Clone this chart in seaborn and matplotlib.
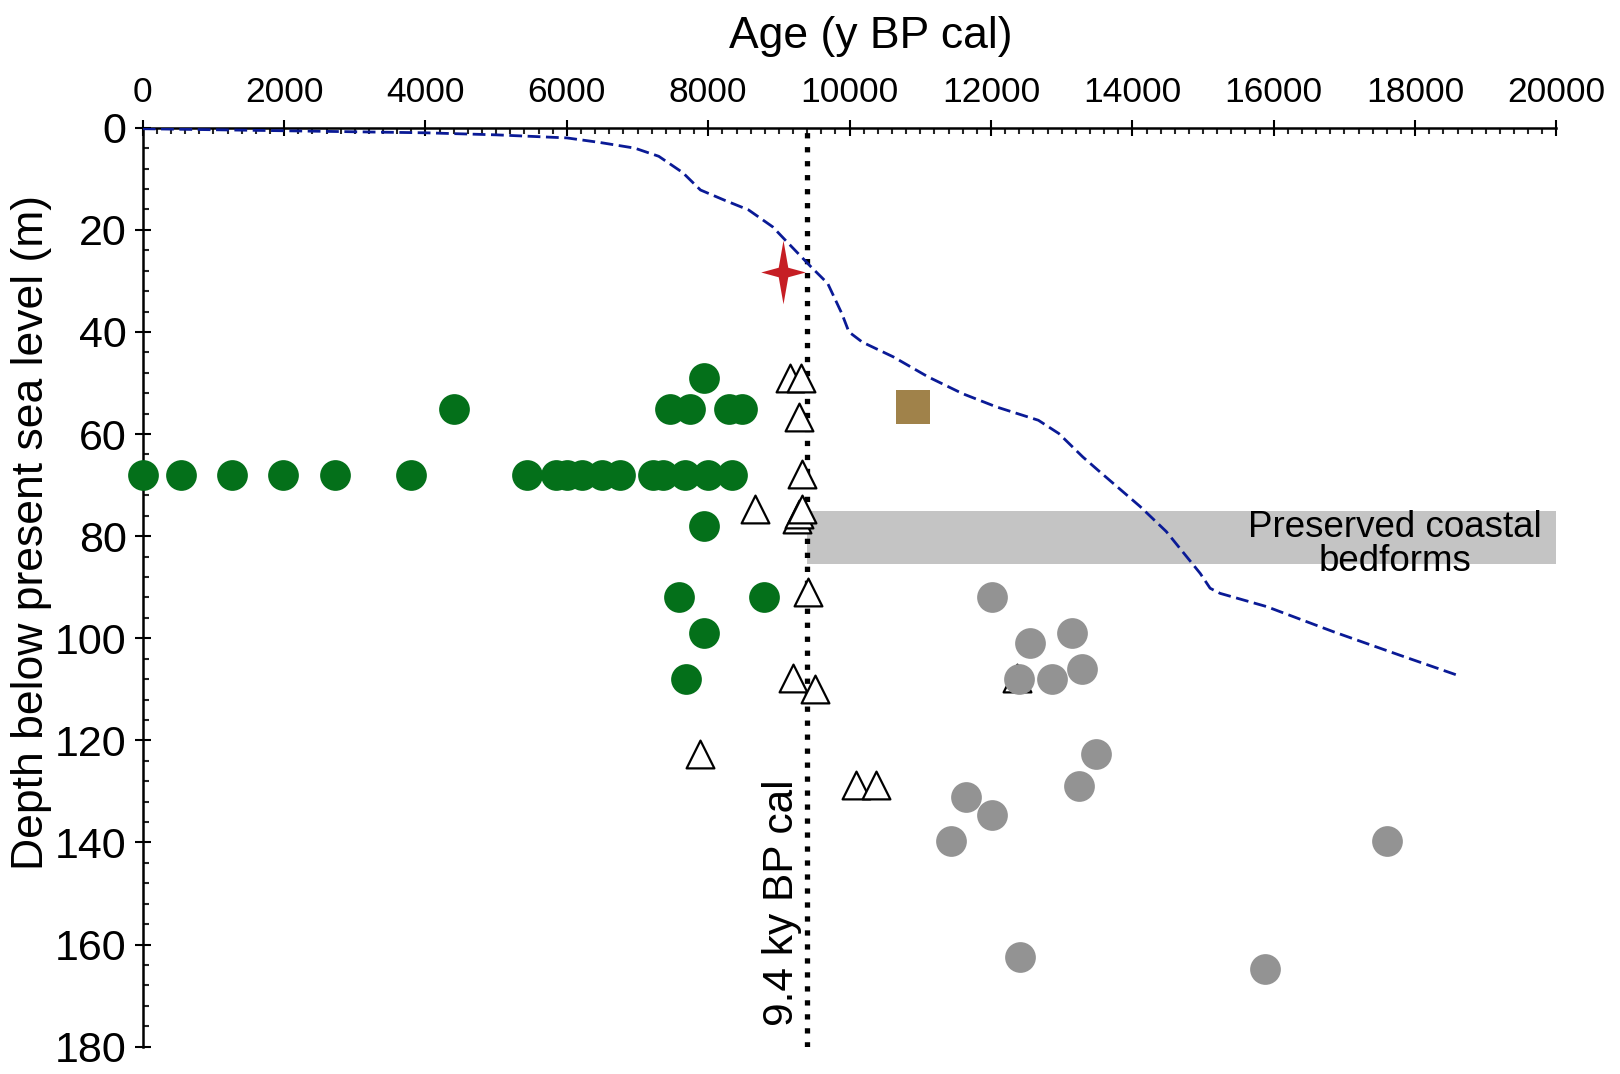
import numpy as np
import matplotlib
matplotlib.use("Agg")
import matplotlib.pyplot as plt
from matplotlib.path import Path
from matplotlib.ticker import MultipleLocator
import seaborn as sns

# sea-level curve (dashed blue)
curve_age = [0, 1000, 2000, 3000, 4000, 5000, 6000, 6470, 6960, 7300, 7640, 7890,
             8230, 8570, 8910, 9110, 9450, 9690, 9890, 9990, 10180, 10620, 11110,
             11600, 12080, 12670, 12960, 13300, 13540, 14110, 14480, 14960, 15100,
             15240, 15900, 16840, 17780, 18590]
curve_depth = [0.2, 0.4, 0.6, 0.8, 1.0, 1.4, 2.0, 2.9, 4.0, 5.6, 8.8, 12.2,
               14.2, 16.1, 19.4, 22.3, 27.2, 30.5, 36.4, 40.0, 42.0, 44.9, 48.8,
               52.1, 54.7, 57.3, 59.9, 64.5, 67.4, 74.2, 79.1, 87.3, 90.2,
               91.2, 93.8, 98.7, 103.3, 107.2]

# green circles
green_age = [0, 540, 1260, 1990, 2720, 3800, 5440, 5840, 6000, 6220, 6500, 6750,
             7220, 7360, 7670, 8000, 8330,
             4410, 7460, 7740, 8300, 8480,
             7940, 7940, 7590, 8790, 7940, 7680]
green_depth = [68] * 17 + [55] * 5 + [49, 78, 92, 92, 99, 108]

# grey circles
gray_age = [12010, 12550, 13150, 12390, 12860, 13290, 11650, 13240, 13480,
            12020, 11430, 17600, 12410, 15880]
gray_depth = [92, 101, 99, 108, 108, 106, 131, 129, 122.6,
              134.6, 139.7, 139.7, 162.5, 164.7]

# open triangles
tri_age = [9150, 9310, 9280, 9330, 8660, 9250, 9290, 9330, 9405, 9200, 9505,
           7880, 10090, 10370, 12370]
tri_depth = [49, 49, 56.7, 67.8, 74.7, 76.7, 75.7, 74.7, 90.9, 107.7, 109.9,
             122.6, 128.8, 128.8, 107.8]

square_age = [10900]
square_depth = [54.8]

star_age = [9060]
star_depth = [28.2]

boundary_age = 9400
band_age = [9400, 20000]
band_top = 75
band_bottom = 85.5

sns.set_style("white")
plt.rcParams['font.family'] = ['Liberation Sans', 'DejaVu Sans']
plt.rcParams['text.color'] = 'black'
plt.rcParams['axes.labelcolor'] = 'black'

fig = plt.figure(figsize=(16.2, 10.74), dpi=100)
ax = fig.add_axes([0.0881, 0.0254, 0.8727, 0.8557])

# grey band of preserved bedforms
ax.fill_between(band_age, band_top, band_bottom, color="#c4c4c4", lw=0, zorder=1)
ax.text(17710, 81.6, "Preserved coastal\nbedforms", ha="center", va="center",
        fontsize=26.5, linespacing=0.98, zorder=6)

# 9.4 ky line
ax.axvline(boundary_age, color="black", ls=":", lw=3.8, zorder=2)
ax.text(9040, 176, "9.4 ky BP cal", rotation=90, ha="center", va="bottom",
        fontsize=30.5, zorder=6)

sns.lineplot(x=curve_age, y=curve_depth, ax=ax, color="#0a1a96", lw=2.0,
             linestyle=(0, (4.6, 2.0)), sort=False, estimator=None, zorder=3)

sns.scatterplot(x=tri_age, y=tri_depth, ax=ax, marker="^", s=400,
                color="white", edgecolor="black", linewidth=1.6, zorder=4)
sns.scatterplot(x=gray_age, y=gray_depth, ax=ax, marker="o", s=490,
                color="#939393", linewidth=0, zorder=5)
sns.scatterplot(x=green_age, y=green_depth, ax=ax, marker="o", s=490,
                color="#04701a", linewidth=0, zorder=5, clip_on=False)
sns.scatterplot(x=square_age, y=square_depth, ax=ax, marker="s", s=580,
                color="#a0824a", linewidth=0, zorder=5)

w = 0.15
star = Path([(0, 1), (w, w), (0.7, 0), (w, -w), (0, -1), (-w, -w),
             (-0.7, 0), (-w, w), (0, 1)],
            [Path.MOVETO] + [Path.LINETO] * 7 + [Path.CLOSEPOLY])
sns.scatterplot(x=star_age, y=star_depth, ax=ax, marker=star, s=2100,
                color="#c61e24", linewidth=0, zorder=5)

ax.set_xlim(0, 20000)
ax.set_ylim(180, 0)
ax.xaxis.tick_top()
ax.xaxis.set_label_position("top")
ax.xaxis.set_major_locator(MultipleLocator(2000))
ax.xaxis.set_minor_locator(MultipleLocator(200))
ax.yaxis.set_major_locator(MultipleLocator(20))
ax.yaxis.set_minor_locator(MultipleLocator(4))

ax.tick_params(axis="x", which="major", direction="inout", length=11, width=1.5,
               labelsize=25.5, pad=8, top=True, bottom=False, colors="black")
ax.tick_params(axis="x", which="minor", direction="in", length=4.5, width=1.5,
               top=True, bottom=False)
ax.tick_params(axis="y", which="major", direction="inout", length=11, width=1.5,
               labelsize=31, pad=6, left=True, colors="black")
ax.tick_params(axis="y", which="minor", direction="in", length=4.5, width=1.5,
               left=True)

for side in ["right", "bottom"]:
    ax.spines[side].set_visible(False)
for side in ["top", "left"]:
    ax.spines[side].set_linewidth(1.8)
    ax.spines[side].set_color("black")

ax.set_xlabel("Age (y BP cal)", fontsize=32)
ax.set_ylabel("Depth below present sea level (m)", fontsize=32)
ax.xaxis.set_label_coords(0.515, 1.099)
ax.xaxis.label.set_va("center")
ax.yaxis.set_label_coords(-0.079, 0.56)
ax.yaxis.label.set_va("center")

fig.savefig("out.png", dpi=100)
